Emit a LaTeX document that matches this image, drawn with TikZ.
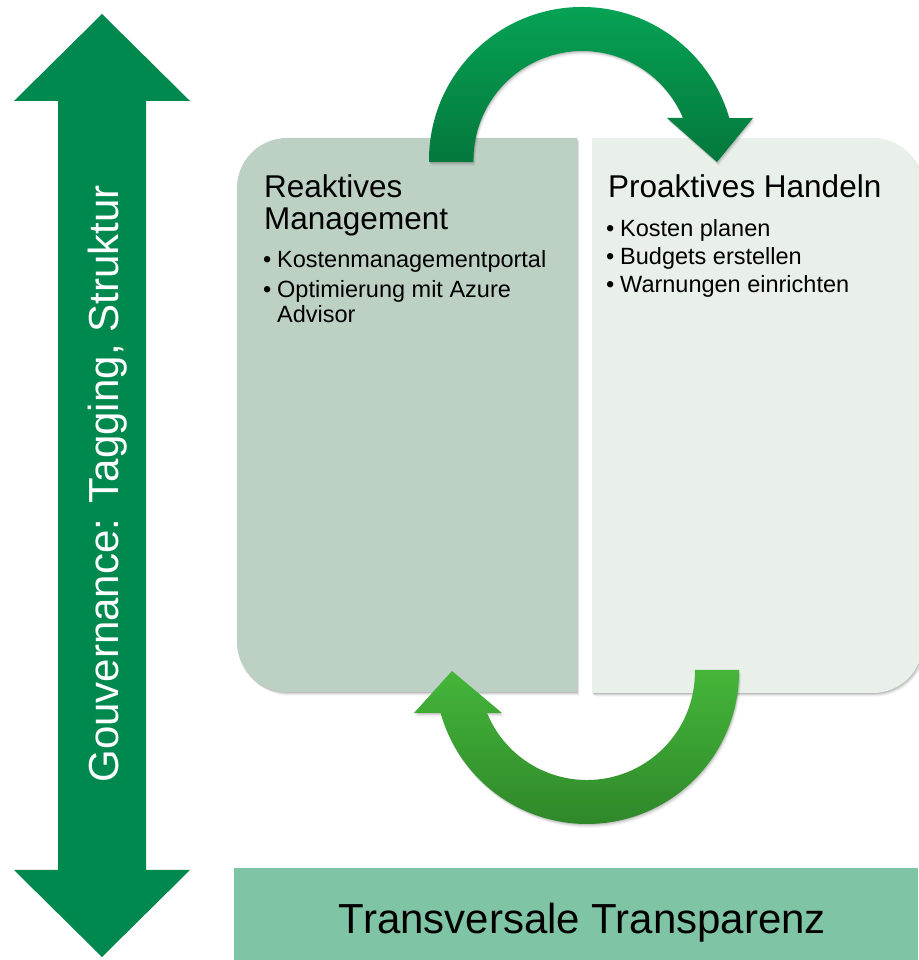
\documentclass[tikz,border=0pt]{standalone}
\usepackage{fontspec}
\setmainfont{Liberation Sans}
\definecolor{vgreen}{RGB}{0,137,79}
\definecolor{boxL}{RGB}{189,208,196}
\definecolor{boxR}{RGB}{232,240,233}
\definecolor{boxB}{RGB}{128,196,166}
\definecolor{taTop}{RGB}{6,162,84}
\definecolor{taBot}{RGB}{4,120,60}
\definecolor{baTop}{RGB}{69,182,58}
\definecolor{baBot}{RGB}{47,136,42}
\newcommand\TopArrowPath{(473,798) -- (429,798) -- (429,800) arc[start angle=180,end angle=15.9,radius=153] -- (753,842) -- (717,798) -- (667,842) -- (683,842) arc[start angle=22.7,end angle=180,radius=109] -- cycle}
\newcommand\BotArrowPath{(695,290) -- (739,290) -- (739,288) arc[start angle=0,end angle=-164.35,radius=152] -- (414,247) -- (452,289) -- (502,247) -- (487,247) arc[start angle=-157.7,end angle=0,radius=108] -- cycle}
\newcommand\LeftBoxPath{(577,268) -- (577,822) -- (287,822) arc[start angle=90,end angle=180,radius=50] -- (237,318) arc[start angle=180,end angle=270,radius=50] -- cycle}
\newcommand\RightBoxPath{(592,267) -- (592,822) -- (873,822) arc[start angle=90,end angle=0,radius=50] -- (923,317) arc[start angle=0,end angle=-90,radius=50] -- cycle}
\tikzset{
  head/.style={inner sep=0pt, anchor=base west, font=\fontsize{31.5}{36}\selectfont},
  item/.style={inner sep=0pt, anchor=base west, font=\fontsize{23.5}{28}\selectfont},
  bul/.style={inner sep=0pt, anchor=base west, font=\fontsize{23.5}{28}\selectfont},
  big/.style={inner sep=0pt, font=\fontsize{42}{50}\selectfont},
}
\begin{document}
\begin{tikzpicture}[x=1pt,y=1pt]
\useasboundingbox (0,0) rectangle (918,960);
\fill[white] (0,0) rectangle (918,960);
% vertical double arrow
\fill[vgreen] (102,946) -- (190,859) -- (146,859) -- (146,90) -- (190,90) -- (102,3) -- (14,90) -- (58,90) -- (58,859) -- (14,859) -- cycle;
\node[big, white, rotate=90, anchor=base] (gov) at (118,476) {Gouvernance: Tagging, Struktur};
% box shadows
\foreach \s/\o in {1/0.10,2/0.08,3/0.06,4/0.04}{
  \fill[black,opacity=\o,xshift=\s*0.6pt,yshift=-\s*0.9pt] \LeftBoxPath;
  \fill[black,opacity=\o,xshift=\s*0.6pt,yshift=-\s*0.9pt] \RightBoxPath;
}
\fill[boxL] \LeftBoxPath;
\fill[boxR] \RightBoxPath;
% left box text
\node[head] (lt1) at (264,762) {Reaktives};
\node[head] (lt2) at (264,730) {Management};
\node[bul] (lb1) at (263,692) {•};
\node[item] (li1) at (277,692) {Kostenmanagementportal};
\node[bul] (lb2) at (263,662) {•};
\node[item] (li2) at (277,662) {Optimierung mit Azure};
\node[item] (li3) at (277,637) {Advisor};
% right box text
\node[head] (rt1) at (608,762) {Proaktives Handeln};
\node[bul] (rb1) at (606,723) {•};
\node[item] (ri1) at (620,723) {Kosten planen};
\node[bul] (rb2) at (606,695) {•};
\node[item] (ri2) at (620,695) {Budgets erstellen};
\node[bul] (rb3) at (606,667) {•};
\node[item] (ri3) at (620,667) {Warnungen einrichten};
% curved arrows with shadows
\foreach \s/\o in {1/0.09,2/0.07,3/0.05,4/0.03}{
  \fill[black,opacity=\o,xshift=\s*0.5pt,yshift=-\s*1pt] \TopArrowPath;
  \fill[black,opacity=\o,xshift=\s*0.5pt,yshift=-\s*1pt] \BotArrowPath;
}
\shade[top color=taTop, bottom color=taBot] \TopArrowPath;
\shade[top color=baTop, bottom color=baBot] \BotArrowPath;
% bottom box
\fill[boxB] (234,0) rectangle (918,92);
\node[big, anchor=base] (trans) at (582.5,26) {Transversale Transparenz};
\end{tikzpicture}
\end{document}
